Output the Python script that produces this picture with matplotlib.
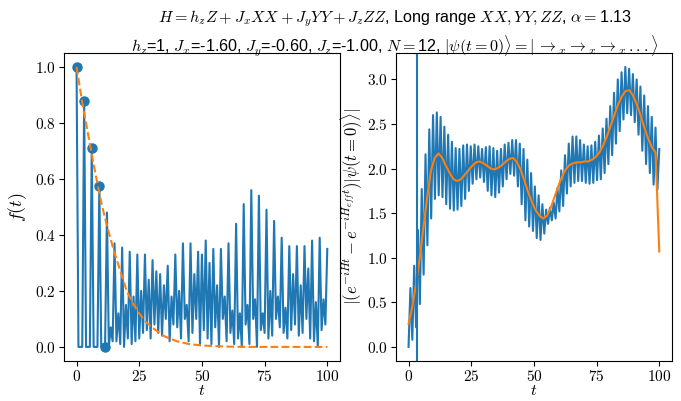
import numpy as np
import matplotlib
matplotlib.use("Agg")
import matplotlib.pyplot as plt
from matplotlib.ticker import FuncFormatter

plt.rcParams['mathtext.fontset'] = 'cm'
plt.rcParams['font.family'] = ['Liberation Sans', 'DejaVu Sans']

# left panel: f(t), 4 samples per ~3 time units  [peak, low, mid, low]
f_vals = [
    1.00, 0.00, 0.00, 0.00,
    0.88, 0.00, 0.00, 0.00,
    0.71, 0.00, 0.00, 0.00,
    0.575, 0.00, 0.00, 0.00,
    0.48, 0.00, 0.07, 0.02,
    0.37, 0.02, 0.12, 0.01,
    0.355, 0.00, 0.15, 0.03,
    0.34, 0.01, 0.18, 0.02,
    0.33, 0.03, 0.20, 0.05,
    0.33, 0.06, 0.24, 0.03,
    0.31, 0.08, 0.27, 0.05,
    0.26, 0.04, 0.22, 0.10,
    0.29, 0.02, 0.18, 0.08,
    0.33, 0.07, 0.20, 0.03,
    0.37, 0.10, 0.15, 0.02,
    0.37, 0.05, 0.26, 0.10,
    0.34, 0.01, 0.33, 0.06,
    0.38, 0.03, 0.30, 0.01,
    0.35, 0.07, 0.22, 0.00,
    0.35, 0.10, 0.18, 0.02,
    0.37, 0.05, 0.13, 0.01,
    0.44, 0.03, 0.12, 0.00,
    0.51, 0.08, 0.15, 0.01,
    0.56, 0.10, 0.17, 0.00,
    0.54, 0.06, 0.12, 0.05,
    0.49, 0.03, 0.20, 0.04,
    0.45, 0.10, 0.18, 0.07,
    0.39, 0.05, 0.14, 0.03,
    0.36, 0.06, 0.26, 0.08,
    0.36, 0.04, 0.22, 0.05,
    0.36, 0.10, 0.28, 0.03,
    0.38, 0.02, 0.16, 0.00,
    0.39, 0.06, 0.17, 0.08,
    0.35,
]
# detected peaks (sample index in f_vals)
peak_idx = [0, 4, 8, 12, 15]

# decay envelope (dashed)
env_t = [0, 2.5, 5, 7.5, 10, 12.5, 15, 17.5, 20, 22.5, 25, 27.5, 30, 35, 40, 45, 50, 55, 60, 70, 80, 90, 100]
env_v = [1.0, 0.86, 0.74, 0.62, 0.51, 0.42, 0.34, 0.27, 0.20, 0.155, 0.12, 0.09, 0.07,
         0.038, 0.02, 0.01, 0.005, 0.003, 0.001, 0.0, 0.0, 0.0, 0.0]

# right panel: alternating low / high samples
r_lo = [0.00, 0.08, 0.22, 0.48, 0.81, 1.14, 1.44, 1.66, 1.70, 1.68,
        1.60, 1.55, 1.53, 1.54, 1.58, 1.66, 1.75, 1.83, 1.88, 1.90,
        1.85, 1.75, 1.70, 1.68, 1.73, 1.80, 1.88, 1.94, 1.92, 1.80,
        1.60, 1.42, 1.35, 1.30, 1.22, 1.20, 1.27, 1.38, 1.42, 1.44,
        1.52, 1.58, 1.72, 1.80, 1.84, 1.86, 1.86, 1.84, 1.83, 1.84,
        1.87, 1.88, 1.95, 2.05, 2.15, 2.28, 2.42, 2.55, 2.62, 2.60,
        2.52, 2.38, 2.20, 2.05, 1.95, 1.82, 1.76]
r_hi = [0.66, 0.91, 1.31, 1.77, 2.16, 2.44, 2.60, 2.63, 2.58, 2.47,
        2.38, 2.30, 2.23, 2.22, 2.26, 2.27, 2.25, 2.27, 2.25, 2.22,
        2.24, 2.25, 2.23, 2.20, 2.22, 2.27, 2.29, 2.32, 2.32, 2.28,
        2.22, 2.10, 1.95, 1.80, 1.70, 1.60, 1.54, 1.56, 1.62, 1.78,
        1.98, 2.15, 2.28, 2.36, 2.36, 2.32, 2.27, 2.25, 2.26, 2.30,
        2.37, 2.45, 2.56, 2.70, 2.85, 3.00, 3.08, 3.14, 3.12, 3.06,
        3.00, 2.92, 2.82, 2.70, 2.58, 2.46, 2.22]
# smoothed curve
r_avg = [0.26, 0.45, 0.70, 1.00, 1.35, 1.68, 1.98, 2.12, 2.17, 2.12,
         2.03, 1.95, 1.88, 1.86, 1.88, 1.93, 1.98, 2.03, 2.07, 2.08,
         2.06, 2.03, 2.00, 1.99, 2.01, 2.04, 2.08, 2.11, 2.12, 2.07,
         1.98, 1.86, 1.73, 1.62, 1.53, 1.47, 1.44, 1.47, 1.56, 1.68,
         1.80, 1.91, 1.99, 2.04, 2.06, 2.07, 2.07, 2.08, 2.08, 2.10,
         2.13, 2.18, 2.26, 2.36, 2.48, 2.60, 2.72, 2.81, 2.87, 2.88,
         2.82, 2.72, 2.60, 2.46, 2.34, 2.24, 2.18, 1.07]
t_mark = 3.2

f = np.array(f_vals)
t_left = np.linspace(0, 100, len(f))
blue = np.empty(len(r_lo) + len(r_hi))
blue[0::2] = r_lo
blue[1::2] = r_hi
t_right = np.linspace(0, 100, len(blue))
t_avg = np.linspace(0, 100, len(r_avg))

fig = plt.figure(figsize=(6.81, 4.01), dpi=100)
ax1 = fig.add_axes([0.094, 0.1, 0.405, 0.768])
ax2 = fig.add_axes([0.5815, 0.1, 0.405, 0.768])

ax1.plot(t_left, f, color='C0', lw=1.5)
ax1.plot(t_left[peak_idx], f[peak_idx], 'o', color='C0', ms=6.5)
ax1.plot(env_t, env_v, '--', color='C1', lw=1.5)
ax1.set_xlabel('$t$', fontsize=11.5, labelpad=-1)
ax1.set_ylabel('$f(t)$', fontsize=13, labelpad=4)
ax1.set_yticks([0, 0.2, 0.4, 0.6, 0.8, 1.0])

ax2.plot(t_right, blue, color='C0', lw=1.5)
ax2.plot(t_avg, r_avg, color='C1', lw=1.5)
ax2.axvline(t_mark, color='C0', lw=1.5)
ax2.set_xlabel('$t$', fontsize=11.5, labelpad=-1)
ax2.set_ylabel(r'$|(e^{-iHt}-e^{-iH_{eff}t})|\psi(t=0)\rangle|$', fontsize=12, labelpad=2)
ax2.set_yticks([0, 0.5, 1.0, 1.5, 2.0, 2.5, 3.0])

for ax in (ax1, ax2):
    ax.set_xticks([0, 25, 50, 75, 100])
    ax.xaxis.set_major_formatter(FuncFormatter(lambda v, p: f'${v:.0f}$'))
    ax.yaxis.set_major_formatter(FuncFormatter(lambda v, p: f'${v:.1f}$'))
    ax.tick_params(labelsize=11, pad=2.5)

fig.suptitle(r'$H=h_zZ+J_xXX+J_yYY+J_zZZ$, Long range $XX,YY,ZZ$, $\alpha=$1.13' '\n'
             r'$h_z$=1, $J_x$=-1.60, $J_y$=-0.60, $J_z$=-1.00, $N=$12, '
             r'$|\psi(t=0)\rangle=|\,{\rightarrow}_x{\rightarrow}_x{\rightarrow}_x\,...\rangle$',
             fontsize=11.6, x=0.58, y=0.978, linespacing=1.2)

fig.savefig('out.png', dpi=100)
